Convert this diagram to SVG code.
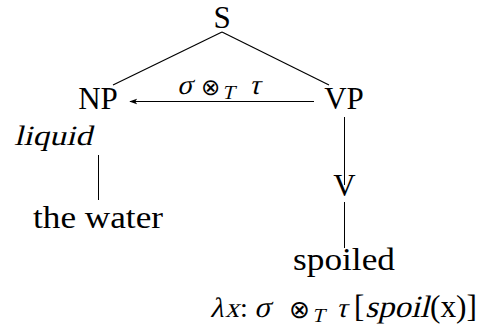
<svg xmlns="http://www.w3.org/2000/svg" width="480" height="326" viewBox="0 0 480 326">
<defs>
<style>
.lbl{font-family:"Liberation Serif","DejaVu Serif",serif;font-size:31px;fill:#000;}
.node{text-anchor:middle;}
.m{font-family:"Liberation Serif","DejaVu Serif",serif;font-size:28px;fill:#000;}
.op{font-family:"DejaVu Sans ExtraLight","DejaVu Sans Light","DejaVu Sans",sans-serif;font-weight:200;font-size:23px;fill:#000;}
.sub{font-family:"Liberation Serif","DejaVu Serif",serif;font-size:20px;fill:#000;}
.edge{stroke:#000;stroke-width:1.2;fill:none;}
.dep{stroke:#000;stroke-width:1;fill:none;}
</style>
<marker id="ah" viewBox="0 0 10 10" refX="9" refY="5" markerWidth="8" markerHeight="8" markerUnits="userSpaceOnUse" orient="auto">
<path d="M0,1.5 L10,5 L0,8.5 L2.5,5 Z" fill="#000"/>
</marker>
</defs>
<g id="connectors">
<line class="edge" x1="222" y1="32" x2="113" y2="85"/>
<line class="edge" x1="222" y1="32" x2="329" y2="85"/>
<line class="dep" x1="314" y1="101.5" x2="130" y2="101.5" marker-end="url(#ah)"/>
<line class="dep" x1="344.5" y1="117" x2="344.5" y2="185"/>
<line class="dep" x1="344.5" y1="202" x2="344.5" y2="248"/>
<line class="dep" x1="98.5" y1="155" x2="98.5" y2="200"/>
<g id="edge-label">
<text class="m" transform="translate(177,94) skewX(-14)">σ</text>
<text class="op" x="201" y="95">⊗</text>
<text class="sub" transform="translate(222,99) skewX(-14)">T</text>
<text class="m" transform="translate(249,94) skewX(-14)">τ</text>
</g>
</g>
<g id="S"><text class="lbl node" x="222" y="28">S</text></g>
<g id="NP">
<text class="lbl node" x="98" y="109">NP</text>
<text class="m" transform="translate(14,145) skewX(-14)" textLength="78" lengthAdjust="spacingAndGlyphs">liquid</text>
</g>
<g id="the-water"><text class="lbl node" x="98" y="228" textLength="130" lengthAdjust="spacingAndGlyphs">the water</text></g>
<g id="VP"><text class="lbl node" x="344" y="109">VP</text></g>
<g id="V"><text class="lbl node" x="344.5" y="196">V</text></g>
<g id="spoiled">
<text class="lbl node" x="344" y="270" textLength="102" lengthAdjust="spacingAndGlyphs">spoiled</text>
<g id="semantics">
<text class="m" transform="translate(210,317) skewX(-14)">λ</text>
<text class="m" transform="translate(225,317) skewX(-14)">x</text>
<text class="m" x="240" y="317">:</text>
<text class="m" style="font-size:30px" transform="translate(254,317) skewX(-14)">σ</text>
<text class="op" style="font-size:25px" x="289" y="318">⊗</text>
<text class="sub" transform="translate(312,322) skewX(-14)">T</text>
<text class="m" transform="translate(336,317) skewX(-14)">τ</text>
<text class="lbl" x="354" y="317">[</text>
<text class="lbl" transform="translate(365,317) skewX(-14)" textLength="64" lengthAdjust="spacingAndGlyphs">spoil</text>
<text class="lbl" x="430" y="317" textLength="47" lengthAdjust="spacingAndGlyphs">(x)]</text>
</g>
</g>
</svg>
